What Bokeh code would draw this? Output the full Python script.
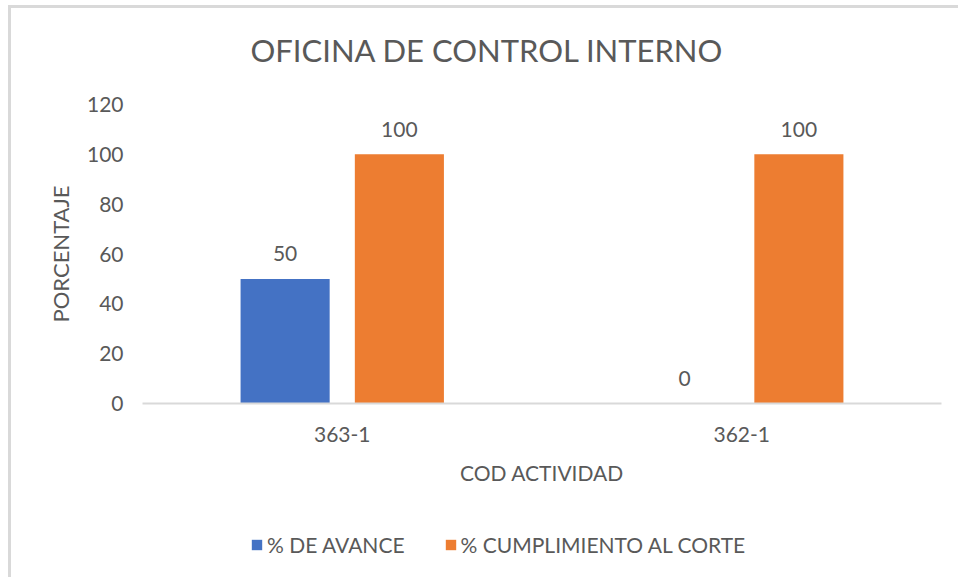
from bokeh.plotting import figure
from bokeh.models import ColumnDataSource, Legend, LegendItem, FactorRange, Range1d
from bokeh.layouts import column
from bokeh.transform import dodge
from bokeh.embed import file_html
from bokeh.resources import INLINE
from bokeh.core.properties import value

categories = ["363-1", "362-1"]
avance = [50, 0]
cumplimiento = [100, 100]
series_names = ["% DE AVANCE", "% CUMPLIMIENTO AL CORTE"]
colors = ["#4472C4", "#ED7D31"]
yticks = [0, 20, 40, 60, 80, 100, 120]

FONT = "Lato"
TXT = "#595959"

src = ColumnDataSource(dict(cat=categories, a=avance, c=cumplimiento,
                            a_lbl=[str(v) for v in avance],
                            c_lbl=[str(v) for v in cumplimiento]))

W = 947
p = figure(width=W, height=480, x_range=FactorRange(*categories),
           y_range=Range1d(0, 120), output_backend="svg", toolbar_location=None,
           min_border_left=131, min_border_right=17, min_border_top=96,
           min_border_bottom=85)
p.x_range.range_padding = 0
p.outline_line_color = None
p.xgrid.grid_line_color = None
p.ygrid.grid_line_color = None

off = 0.143
bw = 0.223
r1 = p.vbar(x=dodge("cat", -off, range=p.x_range), top="a", width=bw, source=src,
            fill_color=colors[0], line_color=None)
r2 = p.vbar(x=dodge("cat", off, range=p.x_range), top="c", width=bw, source=src,
            fill_color=colors[1], line_color=None)

for col, lbl, o in (("a", "a_lbl", -off), ("c", "c_lbl", off)):
    p.text(x=dodge("cat", o, range=p.x_range), y=col, text=lbl, source=src,
           text_align="center", text_baseline="middle", y_offset=-25,
           text_font=value(FONT), text_font_size="21px", text_color=TXT)

# title
p.title.text = "OFICINA DE CONTROL INTERNO"
p.title.align = "left"
p.title.offset = 108
p.title.text_font = FONT
p.title.text_font_size = "31px"
p.title.text_font_style = "normal"
p.title.text_color = TXT
p.title.standoff = 0
p.title.padding = dict(left=0, right=0, top=0, bottom=36)

# x axis
xa = p.xaxis[0]
xa.axis_line_color = "#D9D9D9"
xa.axis_line_width = 2
xa.major_tick_line_color = None
xa.minor_tick_line_color = None
xa.major_label_text_font = FONT
xa.major_label_text_font_size = "21px"
xa.major_label_text_color = TXT
xa.major_label_standoff = 17
xa.axis_label = "COD ACTIVIDAD"
xa.axis_label_text_font = FONT
xa.axis_label_text_font_size = "21px"
xa.axis_label_text_font_style = "normal"
xa.axis_label_text_color = TXT
xa.axis_label_standoff = 15

# y axis
ya = p.yaxis[0]
ya.ticker = yticks
ya.axis_line_color = None
ya.major_tick_line_color = None
ya.minor_tick_line_color = None
ya.major_label_text_font = FONT
ya.major_label_text_font_size = "21px"
ya.major_label_text_color = TXT
ya.major_label_standoff = 13
ya.axis_label = "PORCENTAJE"
ya.axis_label_text_font = FONT
ya.axis_label_text_font_size = "22px"
ya.axis_label_text_font_style = "normal"
ya.axis_label_text_color = TXT
ya.axis_label_standoff = 10

# legend strip (separate figure below the chart)
pl = figure(width=W, height=89, x_range=p.x_range, y_range=Range1d(1000, 1001),
            output_backend="svg", toolbar_location=None,
            min_border_left=0, min_border_right=0, min_border_top=0,
            min_border_bottom=0)
pl.axis.visible = False
pl.grid.visible = False
pl.outline_line_color = None
l1 = pl.vbar(x="cat", top="a", width=bw, source=src, fill_color=colors[0], line_color=None)
l2 = pl.vbar(x="cat", top="c", width=bw, source=src, fill_color=colors[1], line_color=None)

legend = Legend(items=[LegendItem(label=series_names[0], renderers=[l1]),
                       LegendItem(label=series_names[1], renderers=[l2])],
                orientation="horizontal", location=(108, 20),
                label_text_font=FONT, label_text_font_size="21px",
                label_text_color=TXT, glyph_width=13, glyph_height=13,
                label_standoff=4, spacing=39, padding=0, margin=0,
                border_line_color=None, background_fill_alpha=0)
pl.add_layout(legend, "center")

layout = column(p, pl, spacing=0)
layout.styles = {"margin-left": "8px", "margin-top": "5px",
                 "border-left": "3px solid #d9d9d9", "border-top": "3px solid #d9d9d9"}

open("out.html", "w").write(file_html(layout, INLINE))
